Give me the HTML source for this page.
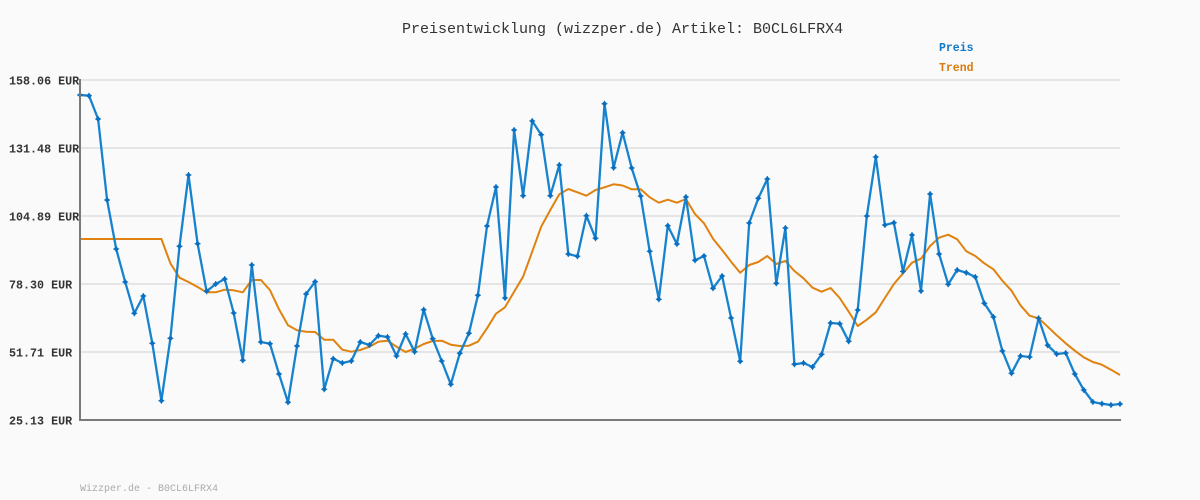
<!DOCTYPE html>
<html><head><meta charset="utf-8"><style>
html,body{margin:0;padding:0;background:#fafafa;}
svg{display:block;}
text{font-family:"Liberation Mono",monospace;}
</style></head><body>
<svg width="1200" height="500" viewBox="0 0 1200 500" xmlns="http://www.w3.org/2000/svg">
<defs>
<marker id="m" markerUnits="userSpaceOnUse" markerWidth="8" markerHeight="8" refX="4" refY="4" viewBox="0 0 8 8">
<path d="M4,1.2 L6.8,4 L4,6.8 L1.2,4 Z" fill="#0b6fbf"/>
<path d="M4,1 V7 M1,4 H7" stroke="#0b6fbf" stroke-width="1"/>
</marker>
</defs>
<rect width="1200" height="500" fill="#fafafa"/>
<text x="402" y="33" font-size="15" fill="#333">Preisentwicklung (wizzper.de) Artikel: B0CL6LFRX4</text>
<text x="939" y="51" font-size="11.5" font-weight="bold" fill="#1278c8">Preis</text>
<text x="939" y="71" font-size="11.5" font-weight="bold" fill="#d97a0a">Trend</text>
<g stroke="#e5e5e5" stroke-width="2">
<line x1="80" y1="80" x2="1120" y2="80"/>
<line x1="80" y1="148" x2="1120" y2="148"/>
<line x1="80" y1="216" x2="1120" y2="216"/>
<line x1="80" y1="284" x2="1120" y2="284"/>
<line x1="80" y1="352" x2="1120" y2="352"/>
</g>
<g font-size="11.7" font-weight="bold" fill="#333">
<text x="9" y="84.5">158.06 EUR</text>
<text x="9" y="152.5">131.48 EUR</text>
<text x="9" y="220.5">104.89 EUR</text>
<text x="9" y="288.5">78.30 EUR</text>
<text x="9" y="356.5">51.71 EUR</text>
<text x="9" y="424.5">25.13 EUR</text>
</g>
<polyline fill="none" stroke="#e0820f" stroke-width="2" stroke-linejoin="round" points="80,239 161.4,239 170.4,263.3 179.5,277.7 188.5,282 197.6,287 206.6,292.3 215.7,292.3 224.7,289.7 233.7,290.3 242.8,292.3 251.8,280 260.9,280 269.9,290 279.0,309.3 288,325.3 297.0,330.3 306.1,331.7 315.1,332 324.2,339.7 333.2,339.7 342.3,349.7 351.3,351.7 360.3,350 369.4,346.7 378.4,341.7 387.5,340.7 396.5,346.7 405.6,352 414.6,348.7 423.7,344 432.7,341 441.7,340.7 450.8,344.7 459.8,346 468.9,345.7 477.9,341.7 487.0,328.3 496,313.7 505.0,307.3 514.1,291.7 523.1,276.7 532.2,251.7 541.2,226.7 550.3,210 559.3,194.3 568.3,189 577.4,192.3 586.4,195.7 595.5,190 604.5,187.3 613.6,184.3 622.6,185.5 631.7,189.3 640.7,189.3 649.7,197.3 658.8,202.7 667.8,199.7 676.9,202.7 685.9,199 695.0,214 704,223.3 713.0,238.7 722.1,250 731.1,261.7 740.2,272.7 749.2,265 758.3,262 767.3,256 776.3,264 785.4,261 794.4,271 803.5,278.3 812.5,287.7 821.6,291.7 830.6,288 839.7,298 848.7,311.7 857.7,326 866.8,319.7 875.8,312.3 884.9,298 893.9,284 903.0,273.3 912,262.7 921.0,258.7 930.1,246 939.1,237.7 948.2,234.7 957.2,239.3 966.3,251.3 975.3,256 984.3,263.3 993.4,269.3 1002.4,280.7 1011.5,290.7 1020.5,305.3 1029.6,315.7 1038.6,318.3 1047.7,326.7 1056.7,335.3 1065.7,343.3 1074.8,350.7 1083.8,357.3 1092.9,362 1101.9,364.7 1111.0,369.7 1120,375"/>
<polyline fill="none" stroke="#1783cf" stroke-width="2.3" stroke-linejoin="round" marker-start="url(#m)" marker-mid="url(#m)" marker-end="url(#m)" points="80,95 89.0,95.7 98.1,119 107.1,200 116.2,249 125.2,282 134.3,313.3 143.3,296 152.3,343.3 161.4,400.7 170.4,338.3 179.5,246.3 188.5,175 197.6,243.7 206.6,291.3 215.7,284 224.7,279 233.7,313 242.8,360.3 251.8,265 260.9,342 269.9,343.7 279.0,374 288,402.3 297.0,346 306.1,294 315.1,281.7 324.2,389.3 333.2,358.7 342.3,363 351.3,361 360.3,342 369.4,345 378.4,335.7 387.5,337 396.5,356 405.6,334 414.6,351.7 423.7,309.7 432.7,338.7 441.7,361 450.8,384.3 459.8,353.3 468.9,333.3 477.9,295.3 487.0,226 496,187 505.0,298 514.1,130 523.1,195.7 532.2,121 541.2,134.7 550.3,195.7 559.3,165 568.3,254 577.4,256.3 586.4,215.7 595.5,238.3 604.5,103.7 613.6,167.7 622.6,132.7 631.7,168 640.7,196 649.7,251.3 658.8,299.3 667.8,225.7 676.9,244 685.9,197 695.0,260.3 704,256 713.0,288.3 722.1,276 731.1,318 740.2,361.3 749.2,223 758.3,198.3 767.3,179 776.3,283.3 785.4,228 794.4,364.3 803.5,363 812.5,367 821.6,354.3 830.6,323 839.7,323.7 848.7,341.3 857.7,310 866.8,216 875.8,157 884.9,225 893.9,222.7 903.0,271.5 912,235 921.0,291 930.1,194 939.1,254 948.2,284.3 957.2,270 966.3,272.7 975.3,277 984.3,303.3 993.4,317 1002.4,351 1011.5,373.3 1020.5,356 1029.6,357 1038.6,318.3 1047.7,345.3 1056.7,354 1065.7,353 1074.8,374 1083.8,390 1092.9,402 1101.9,403.7 1111.0,405 1120,404"/>
<g stroke="#7a7a7a" stroke-width="2">
<line x1="80" y1="79" x2="80" y2="421"/>
<line x1="79" y1="420" x2="1121" y2="420"/>
</g>
<text x="80" y="491" font-size="10" fill="#aaa">Wizzper.de - B0CL6LFRX4</text>
</svg>
</body></html>
